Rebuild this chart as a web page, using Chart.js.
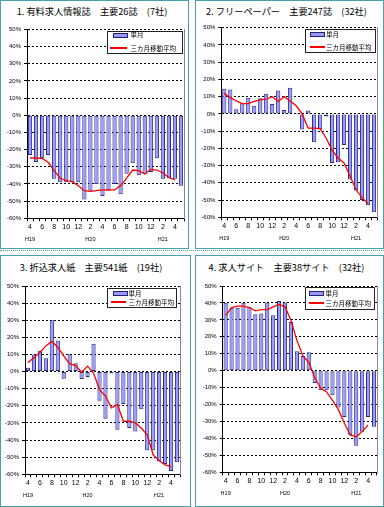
<!DOCTYPE html>
<html><head><meta charset="utf-8">
<script src="https://cdn.jsdelivr.net/npm/chart.js@4.4.1/dist/chart.umd.min.js"></script>
<style>
html,body{margin:0;padding:0;background:#fff;}
#wrap{position:relative;width:384px;height:507px;overflow:hidden;background:#fff;}
.panel{position:absolute;border:1px solid #4aa0ae;box-sizing:border-box;}
.sep{position:absolute;left:0;top:250px;width:384px;height:0;border-top:1px dotted #4aa0ae;}
.title{position:absolute;font-family:"Noto Sans CJK JP",sans-serif;font-size:9.2px;color:#000;white-space:nowrap;transform:translate(-50%,-50%);line-height:1;}
canvas{position:absolute;}
.legend{position:absolute;border:1px solid #222;background:#fff;box-sizing:border-box;}
.sw{position:absolute;height:3px;background:#9999ff;border:1px solid #202070;box-sizing:content-box;}
.ln{position:absolute;height:2px;background:#ff0000;}
.lt{position:absolute;font-family:"Noto Sans CJK JP",sans-serif;font-size:6.5px;line-height:1;color:#000;white-space:nowrap;transform:translateY(-50%);}
</style>
</head><body>
<div id="wrap">
  <div class="panel" style="left:0;top:0;width:189px;height:249px;"></div>
  <div class="panel" style="left:195px;top:0;width:189px;height:249px;"></div>
  <div class="sep"></div>
  <div class="panel" style="left:0;top:255px;width:191px;height:252px;"></div>
  <div class="panel" style="left:195px;top:255px;width:189px;height:252px;"></div>

  <div class="title" style="left:92px;top:12px;">1. 有料求人情報誌　主要26誌　(7社)</div>
  <div class="title" style="left:286.5px;top:12px;">2. フリーペーパー　主要247誌　(32社)</div>
  <div class="title" style="left:91px;top:267.5px;">3. 折込求人紙　主要541紙　(19社)</div>
  <div class="title" style="left:286.5px;top:268px;">4. 求人サイト　主要38サイト　(32社)</div>

  <canvas id="c1"></canvas>
  <canvas id="c2"></canvas>
  <canvas id="c3"></canvas>
  <canvas id="c4"></canvas>

  <div class="legend" style="left:107px;top:30.5px;width:76px;height:23px;"></div>
  <div class="sw" style="left:113px;top:32.5px;width:12.5px;"></div>
  <div class="lt" style="left:130.5px;top:34px;">単月</div>
  <div class="ln" style="left:110px;top:47px;width:17px;"></div>
  <div class="lt" style="left:130.5px;top:47.7px;">三カ月移動平均</div>

  <div class="legend" style="left:305px;top:29px;width:71px;height:23.5px;"></div>
  <div class="sw" style="left:309.5px;top:32.3px;width:13px;"></div>
  <div class="lt" style="left:326px;top:33.8px;">単月</div>
  <div class="ln" style="left:310px;top:46px;width:15px;"></div>
  <div class="lt" style="left:326px;top:47.3px;">三カ月移動平均</div>

  <div class="legend" style="left:107px;top:288px;width:70px;height:19.5px;"></div>
  <div class="sw" style="left:113px;top:291px;width:12.5px;"></div>
  <div class="lt" style="left:128.5px;top:292.7px;">単月</div>
  <div class="ln" style="left:111px;top:301px;width:15px;"></div>
  <div class="lt" style="left:128.5px;top:302.3px;">三カ月移動平均</div>

  <div class="legend" style="left:304.5px;top:287px;width:70.5px;height:22.5px;"></div>
  <div class="sw" style="left:309px;top:291.3px;width:13px;"></div>
  <div class="lt" style="left:325.5px;top:292.7px;">単月</div>
  <div class="ln" style="left:309px;top:302px;width:15px;"></div>
  <div class="lt" style="left:325.5px;top:303.3px;">三カ月移動平均</div>
</div>
<script>
// ---- data ----
const categories = ['4','5','6','7','8','9','10','11','12','1','2','3','4','5','6','7','8','9','10','11','12','1','2','3','4','5'];
const monthTicks = ['4','','6','','8','','10','','12','','2','','4','','6','','8','','10','','12','','2','','4',''];
const eraTicks   = ['H19','','','','','','','','','','H20','','','','','','','','','','','','H21','','',''];

const paidSingle = [-23.2,-27.3,-25.0,-23.2,-37.0,-39.0,-39.0,-39.0,-39.0,-49.0,-44.0,-40.0,-47.0,-44.0,-40.0,-46.0,-34.0,-28.0,-35.0,-34.0,-33.0,-25.0,-37.0,-36.5,-37.0,-41.0];
const paidAvg    = [-24.9,-24.9,-25.1,-27.4,-32.3,-36.7,-38.1,-38.7,-41.0,-43.9,-44.3,-43.9,-43.5,-43.5,-43.5,-41.0,-36.6,-31.9,-32.3,-34.2,-31.5,-31.9,-33.6,-36.2,-37.7,null];

const freeSingle = [14.6,14.2,2.7,6.2,9.3,4.7,9.1,11.7,5.8,13.6,2.3,15.2,0.6,-9.0,2.0,-16.5,-9.0,-1.5,-28.5,-28.0,-18.0,-38.0,-44.5,-50.0,-53.0,-57.0];
const freeAvg    = [11.9,9.4,7.5,6.0,6.0,7.2,8.1,8.5,10.0,7.2,10.0,7.5,4.7,0.0,-8.3,-8.3,-8.5,-14.0,-21.0,-25.6,-28.5,-36.0,-44.0,-48.6,-52.0,null];

const insertSingle = [2.2,10.0,12.2,7.8,30.0,18.2,-4.2,10.2,4.8,-4.4,-3.2,16.2,-17.0,-27.5,-1.0,-34.0,-19.0,-33.0,-35.0,-22.0,-46.0,-46.0,-52.5,-54.0,-58.0,-53.0];
const insertAvg    = [5.2,8.2,11.2,15.0,17.6,14.2,9.2,4.5,3.5,-0.4,3.2,-0.8,-10.5,-14.3,-21.2,-19.2,-29.0,-29.0,-30.0,-33.0,-37.0,-48.6,-52.0,-54.5,-55.5,null];

const siteSingle = [40.1,37.1,37.1,40.1,37.7,33.3,33.7,40.3,32.7,41.1,40.3,28.8,11.5,8.7,10.9,-7.3,-11.6,-11.6,-14.5,-21.8,-27.3,-38.0,-44.3,-36.0,-27.3,-33.1];
const siteAvg    = [32.7,37.3,38.1,38.1,37.3,35.3,36.1,36.1,37.7,39.1,37.7,29.8,17.9,8.9,5.0,-4.0,-10.2,-12.5,-17.5,-23.0,-31.0,-38.0,-39.0,-36.0,-32.0,null];

const singleLabel = '単月';
const avgLabel = '三カ月移動平均';

// ---- layout ----
const panels = [
  {id:'c1', single:paidSingle,   avg:paidAvg,   cv:{l:2,  t:20,  r:188, b:246}, plot:{l:27,   t:29.3, r:184, b:218.3}},
  {id:'c2', single:freeSingle,   avg:freeAvg,   cv:{l:196,t:18,  r:381, b:246}, plot:{l:221.3,t:27.7, r:377, b:217.3}},
  {id:'c3', single:insertSingle, avg:insertAvg, cv:{l:2,  t:276, r:188, b:503}, plot:{l:25,   t:286,  r:180, b:474.3}},
  {id:'c4', single:siteSingle,   avg:siteAvg,   cv:{l:196,t:276, r:381, b:503}, plot:{l:222.7,t:286,  r:377, b:472.3}}
];

const FONT = "'Liberation Sans', Arial, sans-serif";

panels.forEach(p => {
  const cv = document.getElementById(p.id);
  const W = p.cv.r - p.cv.l, H = p.cv.b - p.cv.t;
  cv.width = W; cv.height = H;
  cv.style.left = p.cv.l + 'px'; cv.style.top = p.cv.t + 'px';
  cv.style.width = W + 'px'; cv.style.height = H + 'px';
  const yW = p.plot.l - p.cv.l;
  const padTop = p.plot.t - p.cv.t;
  const padRight = p.cv.r - p.plot.r;
  const bottomTotal = p.cv.b - p.plot.b;
  const xH = 14, x2H = bottomTotal - xH;

  new Chart(cv, {
    type: 'bar',
    data: {
      labels: categories,
      datasets: [
        {type:'line', label:avgLabel, data:p.avg, borderColor:'#ff0000', borderWidth:1.3,
         pointRadius:0, tension:0, fill:false, order:0, spanGaps:false},
        {type:'bar', label:singleLabel, data:p.single, backgroundColor:'#9999ff',
         borderColor:'#2a2a80', borderWidth:1, borderSkipped:false,
         barPercentage:0.7, categoryPercentage:1, order:1}
      ]
    },
    options: {
      responsive:false, animation:false, devicePixelRatio:1,
      layout:{padding:{top:padTop, right:padRight, left:0, bottom:0}},
      plugins:{legend:{display:false}, tooltip:{enabled:false}},
      scales:{
        x:{
          type:'category', position:'bottom', weight:1, offset:true,
          grid:{display:true, drawOnChartArea:false, offset:true, tickLength:3, color:'#000', lineWidth:1},
          border:{display:true, color:'#000', width:1},
          ticks:{autoSkip:false, maxRotation:0, minRotation:0, padding:2, color:'#000',
                 font:{family:FONT, size:7}, callback:(v,i)=>monthTicks[i]},
          afterFit:s=>{s.height = xH;}
        },
        x2:{
          type:'category', position:'bottom', weight:2, offset:true,
          grid:{display:false}, border:{display:false},
          ticks:{autoSkip:false, maxRotation:0, minRotation:0, padding:-4, color:'#000',
                 font:{family:FONT, size:5.5}, callback:(v,i)=>eraTicks[i]},
          afterFit:s=>{s.height = x2H;}
        },
        y:{
          type:'linear', position:'left', min:-60, max:50,
          ticks:{stepSize:10, padding:3, color:'#000', font:{family:FONT, size:6},
                 callback:v=>v+'%'},
          grid:{color:'#000', lineWidth:1, tickLength:3},
          border:{display:true, color:'#000', width:1, dash:[2,2]},
          afterFit:s=>{s.width = yW;}
        },
        yr:{
          type:'linear', position:'right', min:-60, max:50, display:true,
          ticks:{display:false}, grid:{display:false},
          border:{display:true, color:'#888', width:1},
          afterFit:s=>{s.width = 0;}
        }
      }
    }
  });
});
</script>
</body></html>
